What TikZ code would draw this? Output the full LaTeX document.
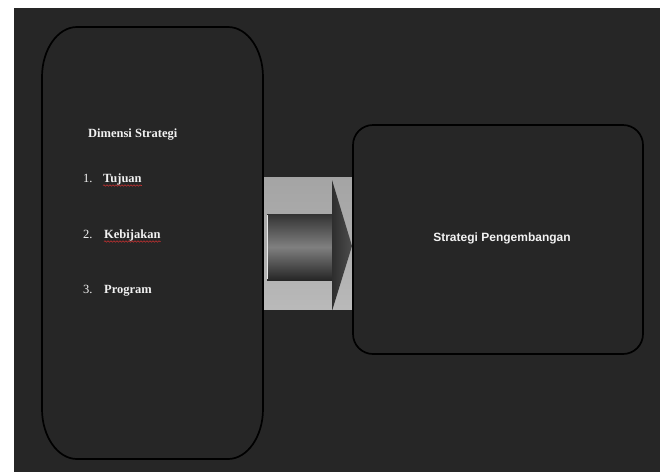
\documentclass[tikz,border=0pt]{standalone}
\usepackage{fontspec}
\setmainfont{Liberation Serif}
\newfontfamily\arialfont{Liberation Sans}
\usetikzlibrary{decorations.pathmorphing}
\definecolor{bgdark}{HTML}{262626}
\definecolor{txtw}{HTML}{F2F2F2}
\definecolor{graybg}{HTML}{ADADAD}
\definecolor{spellred}{HTML}{C03030}
\tikzset{
  boxline/.style={draw=black,line width=1.7pt},
  serifbold/.style={text=txtw,font=\fontsize{12.5}{14}\selectfont\bfseries,inner sep=0pt,anchor=base west},
  serifnum/.style={text=txtw,font=\fontsize{12.5}{14}\selectfont,inner sep=0pt,anchor=base west},
  sanslabel/.style={text=txtw,font=\arialfont\fontsize{12}{14}\selectfont\bfseries,inner sep=0pt},
  spell/.style={draw=spellred,line width=0.6pt,decorate,decoration={snake,amplitude=0.7pt,segment length=3pt}}
}
\begin{document}
\begin{tikzpicture}[x=1pt,y=-1pt]
\useasboundingbox (0,0) rectangle (660,472);
\fill[white] (0,0) rectangle (660,472);
\fill[bgdark] (14,8) rectangle (660,472);
% arrow block
\node[inner sep=0pt,minimum width=89pt,minimum height=132pt,anchor=north west,
      top color=graybg!95!black,bottom color=graybg!85!white,middle color=graybg] (arrowbg) at (263,177) {};
\shade[top color=black!80,bottom color=black!85,middle color=black!50] (267,214) rectangle (332,280);
\draw[white!80!gray,line width=0.8pt] (267.5,215) -- (267.5,279);
\shade[left color=black!82,right color=black!70] (332,180) -- (352,246) -- (332,311) -- cycle;
% left box (elliptical corners)
\draw[boxline] (77,27) -- (228,27)
  .. controls (247.3,27) and (263,49.4) .. (263,77) -- (263,409)
  .. controls (263,436.6) and (247.3,459) .. (228,459) -- (77,459)
  .. controls (57.7,459) and (42,436.6) .. (42,409) -- (42,77)
  .. controls (42,49.4) and (57.7,27) .. cycle;
% right box
\draw[boxline,rounded corners=20pt] (353,125) rectangle (643,354);
\node[sanslabel] (strat) at (502,238) {Strategi Pengembangan};
% texts left
\node[serifbold] (dim) at (88,137) {Dimensi Strategi};
\node[serifnum] (n1) at (83,182) {1.};
\node[serifbold] (tuj) at (103,182) {Tujuan};
\node[serifnum] (n2) at (83,238) {2.};
\node[serifbold] (keb) at (104,238) {Kebijakan};
\node[serifnum] (n3) at (83,293) {3.};
\node[serifbold] (prog) at (104,293) {Program};
\draw[spell] ([yshift=-3.5pt]tuj.base west) -- ([yshift=-3.5pt]tuj.base east);
\draw[spell] ([yshift=-3.5pt]keb.base west) -- ([yshift=-3.5pt]keb.base east);
\end{tikzpicture}
\end{document}
